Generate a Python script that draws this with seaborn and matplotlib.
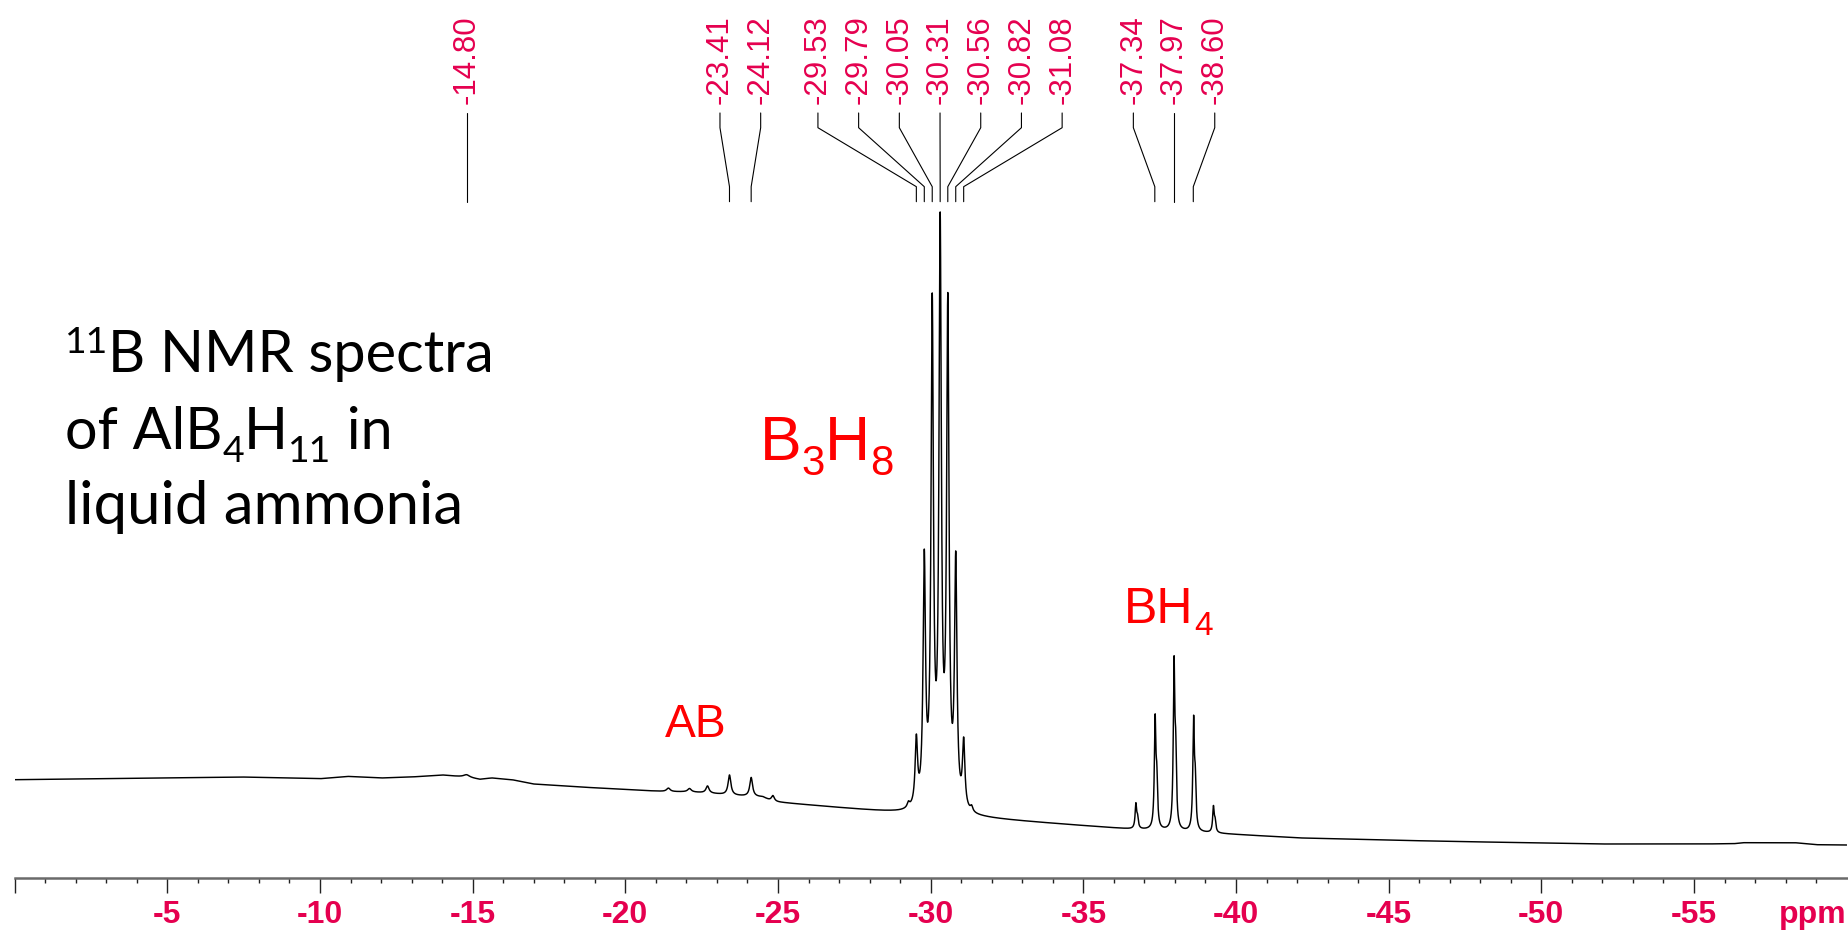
import numpy as np
import pandas as pd
import matplotlib
matplotlib.use("Agg")
import matplotlib.pyplot as plt
import matplotlib.transforms as mtransforms
import seaborn as sns

# ---------------------------------------------------------------- data
# baseline readings of the 11B spectrum (chemical shift in ppm, intensity a.u.)
baseline_ppm = [0.0, -5.0, -7.4, -10.0, -10.9, -12.0, -13.0, -14.0, -14.8, -15.24,
                -15.62, -16.28, -16.98, -18.5, -20.7, -21.4, -22.1, -22.7, -23.4,
                -24.1, -24.5, -24.8, -25.5, -29.0, -31.84, -36.6, -39.5, -42.1,
                -45.4, -47.0, -50.0, -52.0, -55.2, -56.3, -56.6, -58.3, -59.0, -60.0]
baseline_int = [98.0, 99.7, 100.7, 99.0, 101.3, 99.7, 100.7, 102.7, 100.5, 98.3,
                99.7, 98.0, 93.7, 90.7, 87.0, 86.0, 85.7, 84.5, 82.5,
                81.0, 80.5, 76.0, 74.0, 64.5, 59.0, 48.4, 44.0, 39.7,
                37.3, 36.3, 34.7, 33.7, 33.7, 34.0, 35.0, 35.0, 33.0, 32.7]

# resonances: shift (ppm), height (a.u.), half width at half maximum (ppm)
ab_ppm = [-14.80, -21.41, -22.10, -22.69, -23.41, -24.12, -24.83]
ab_height = [2.5, 3.5, 3.3, 7.0, 20.0, 19.0, 6.0]
ab_hwhm = [0.12, 0.07, 0.07, 0.06, 0.055, 0.055, 0.06]

b3h8_ppm = [-29.27, -29.53, -29.79, -30.05, -30.31, -30.56, -30.82, -31.08, -31.34]
b3h8_height = [5.0, 65.0, 241.0, 491.0, 567.0, 491.0, 241.0, 65.0, 5.0]
b3h8_hwhm = 0.047

bh4_ppm = [-36.72, -37.35, -37.97, -38.61, -39.26]
bh4_height = [24.0, 106.0, 160.0, 106.6, 25.0]
bh4_hwhm = 0.03
bh4_shoulder_shift = -0.055
bh4_shoulder_ratio = 0.4

# peak-picking labels shown above the spectrum
peak_labels = [-14.80, -23.41, -24.12, -29.53, -29.79, -30.05, -30.31, -30.56,
               -30.82, -31.08, -37.34, -37.97, -38.60]

major_ticks = [0, -5, -10, -15, -20, -25, -30, -35, -40, -45, -50, -55]
minor_ticks = [v for v in range(-1, -60, -1) if v % 5 != 0]

# ---------------------------------------------------------------- spectrum
ppm = np.linspace(0.0, -60.0, 30001)
intensity = np.interp(ppm, baseline_ppm[::-1], baseline_int[::-1])


def lorentz(x, x0, h, g):
    return h / (1.0 + ((x - x0) / g) ** 2)


for p, h, g in zip(ab_ppm, ab_height, ab_hwhm):
    intensity += lorentz(ppm, p, h, g)
for p, h in zip(b3h8_ppm, b3h8_height):
    intensity += lorentz(ppm, p, h, b3h8_hwhm)
for p, h in zip(bh4_ppm, bh4_height):
    intensity += lorentz(ppm, p, h, bh4_hwhm)
    intensity += lorentz(ppm, p + bh4_shoulder_shift, h * bh4_shoulder_ratio, bh4_hwhm)

df = pd.DataFrame({"ppm": ppm, "intensity": intensity})

# ---------------------------------------------------------------- style
sns.set_style("white")
plt.rcParams.update({
    "font.family": ["Liberation Sans", "DejaVu Sans"],
    "axes.unicode_minus": False,
})

PINK = "#E5004F"
RED = "#FF0000"

W, H = 1848, 936
fig = plt.figure(figsize=(W / 100, H / 100), dpi=100)
x0_px, x1_px, axis_px = 14.7, 1846.7, 877.7
ax = fig.add_axes([x0_px / W, (H - axis_px) / H, (x1_px - x0_px) / W, axis_px / H])

sns.lineplot(data=df, x="ppm", y="intensity", ax=ax, color="black",
             linewidth=1.05, sort=False, estimator=None)

ax.set_xlim(0, -60)
ax.set_ylim(0, axis_px)
ax.set_xlabel("")
ax.set_ylabel("")
ax.set_yticks([])
for side in ("left", "right", "top"):
    ax.spines[side].set_visible(False)
ax.spines["bottom"].set_color("#6a6a6a")
ax.spines["bottom"].set_linewidth(1.8)

tick_len = 10.8
tick_pad = 5.0
ax.set_xticks(major_ticks, labels=["" if t == 0 else str(t) for t in major_ticks],
              fontsize=23, fontweight="bold", color=PINK)
ax.set_xticks(minor_ticks, minor=True)
ax.tick_params(axis="x", which="both", bottom=True, top=False)
ax.tick_params(axis="x", which="major", direction="out", length=tick_len,
               width=1.0, color="#222222", pad=tick_pad)
ax.tick_params(axis="x", which="minor", direction="out", length=3.8,
               width=1.0, color="#222222")
ax.annotate("ppm", xy=(1.0, 0.0), xycoords="axes fraction",
            xytext=(0, -(tick_len + tick_pad)), textcoords="offset points",
            ha="right", va="top", fontsize=23, fontweight="bold", color=PINK)

# ---------------------------------------------------------------- peak labels
blend = mtransforms.blended_transform_factory(ax.transData, ax.transAxes)
label_step = 1.333  # ppm between neighbouring labels
groups = [[peak_labels[0]]]
for v in peak_labels[1:]:
    if abs(v - groups[-1][-1]) < label_step:
        groups[-1].append(v)
    else:
        groups.append([v])

y_text, y_top, y_bend1, y_bend2, y_bot = 0.8815, 0.8713, 0.8545, 0.7873, 0.7702
for grp in groups:
    centre = np.mean(grp)
    n = len(grp)
    for i, v in enumerate(grp):
        xl = centre - (i - (n - 1) / 2) * label_step
        ax.text(xl, y_text, f"{v:.2f}", rotation=90, ha="center", va="bottom",
                transform=blend, fontsize=22.5, color=PINK, clip_on=False)
        ax.plot([xl, xl, v, v], [y_top, y_bend1, y_bend2, y_bot], transform=blend,
                color="black", linewidth=0.8, clip_on=False)

# ---------------------------------------------------------------- annotations
renderer = fig.canvas.get_renderer()


def draw_runs(x_px, y_px, runs, size, family, color):
    """Write text runs (string, relative size, baseline shift in px) one after another."""
    x = x_px
    for s, rel, dy in runs:
        t = fig.text(x / W, 1 - (y_px + dy) / H, s, fontsize=size * rel,
                     family=family, color=color, ha="left", va="baseline")
        x += t.get_window_extent(renderer).width


sans = ["Liberation Sans", "DejaVu Sans"]
draw_runs(665, 737.3, [("AB", 1, 0)], 33.3, sans, RED)
draw_runs(760, 460, [("B", 1, 0), ("3", 0.67, 15), ("H", 1, 0), ("8", 0.67, 15)],
          45, sans, RED)
draw_runs(1124.3, 623.3, [("BH", 1, 0), ("4", 0.67, 12)], 36, sans, RED)

lato = ["Lato", "DejaVu Sans"]
draw_runs(65, 372, [("11", 0.65, -19), ("B NMR spectra", 1, 0)], 41.5, lato, "black")
draw_runs(65, 449, [("of AlB", 1, 0), ("4", 0.65, 13), ("H", 1, 0), ("11", 0.65, 13),
                    (" in", 1, 0)], 41.5, lato, "black")
draw_runs(65, 524, [("liquid ammonia", 1, 0)], 43, lato, "black")

fig.savefig("out.png", dpi=100)
